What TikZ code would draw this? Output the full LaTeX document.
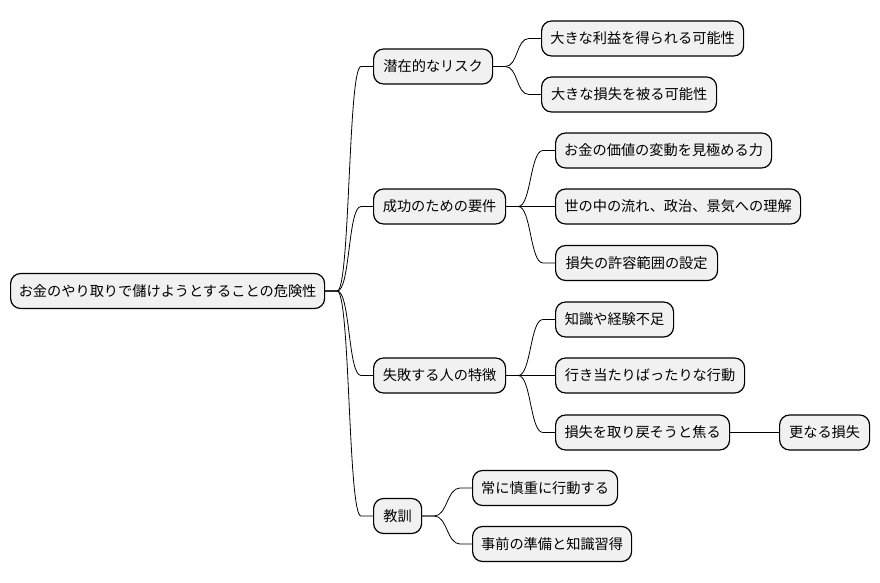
\documentclass[tikz,border=0pt]{standalone}
\usepackage{fontspec}
\setmainfont{Noto Sans CJK JP}
\usetikzlibrary{positioning, calc}
\definecolor{nodefill}{HTML}{F1F1F1}

\begin{document}
\begin{tikzpicture}[x=1pt, y=-1pt,
    every node/.style={font=\fontsize{14.2}{16}\selectfont},
    mm/.style={draw, line width=1.2pt, fill=nodefill, rounded corners=10pt,
        anchor=west, minimum height=35pt, inner xsep=0pt, align=center}]
    \useasboundingbox (0,0) rectangle (880,583);

    % Root
    \node[mm, minimum width=314pt] (root) at (10,291) {お金のやり取りで儲けようとすることの危険性};

    % First level
    \node[mm, minimum width=119pt] (risk)   at (373,66.5)  {潜在的なリスク};
    \node[mm, minimum width=132pt] (req)    at (373,206.5) {成功のための要件};
    \node[mm, minimum width=132pt] (fail)   at (373,375.5) {失敗する人の特徴};
    \node[mm, minimum width=48pt]  (lesson) at (373,516)   {教訓};

    % Second level
    \node[mm, minimum width=202pt] (gain)    at (541,38.5)  {大きな利益を得られる可能性};
    \node[mm, minimum width=175pt] (loss)    at (541,94.5)  {大きな損失を被る可能性};
    \node[mm, minimum width=216pt] (value)   at (555,150.5) {お金の価値の変動を見極める力};
    \node[mm, minimum width=245pt] (world)   at (555,206.5) {世の中の流れ、政治、景気への理解};
    \node[mm, minimum width=162pt] (limit)   at (555,263)   {損失の許容範囲の設定};
    \node[mm, minimum width=118pt] (lack)    at (555,319.5) {知識や経験不足};
    \node[mm, minimum width=189pt] (random)  at (555,375.5) {行き当たりばったりな行動};
    \node[mm, minimum width=174pt] (rush)    at (555,432.5) {損失を取り戻そうと焦る};
    \node[mm, minimum width=90pt]  (more)    at (779,432.5) {更なる損失};
    \node[mm, minimum width=145pt] (careful) at (472,488)   {常に慎重に行動する};
    \node[mm, minimum width=159pt] (prep)    at (472,544)   {事前の準備と知識習得};

    % Branches
    \foreach \a/\b in {root/risk, root/req, root/fail, root/lesson,
        risk/gain, risk/loss, req/value, req/world, req/limit,
        fail/lack, fail/random, fail/rush, rush/more,
        lesson/careful, lesson/prep} {
        \draw[line width=0.8pt] (\a.east) -- ++(12,0)
            .. controls +(13,0) and +(-13,0) .. ([xshift=-12pt]\b.west) -- (\b.west);
    }
\end{tikzpicture}
\end{document}
